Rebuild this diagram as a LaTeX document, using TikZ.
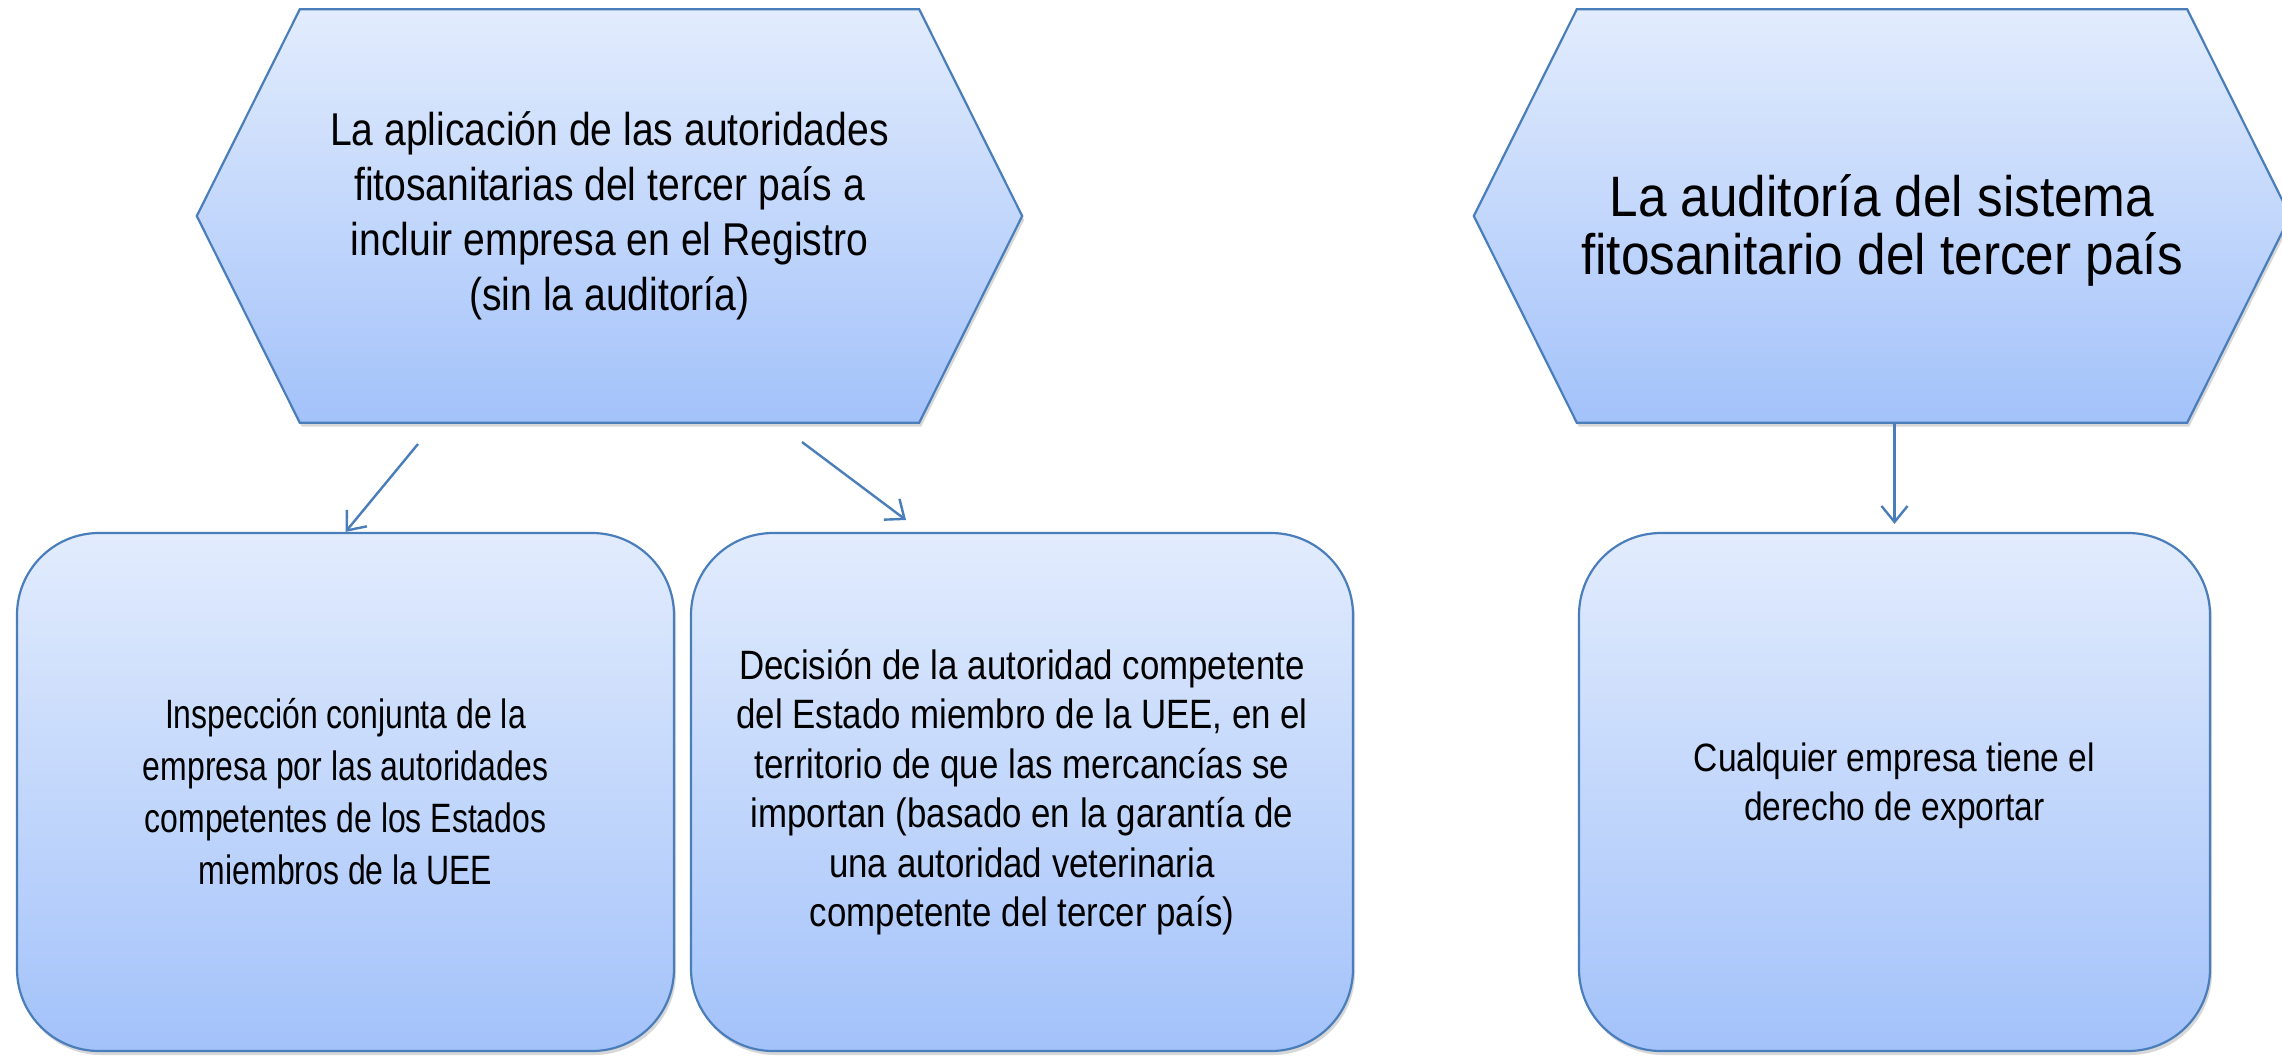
\documentclass[tikz,border=0pt]{standalone}
\usepackage{fontspec}
\newfontfamily\pptfont{Liberation Sans}[FakeStretch=0.85]
\newfontfamily\pptnarrow{Liberation Sans}[FakeStretch=0.78]
\newfontfamily\pptwide{Liberation Sans}[FakeStretch=0.9]
\usetikzlibrary{positioning,arrows.meta,shadows,backgrounds}
\definecolor{edgeblue}{RGB}{74,126,187}
\definecolor{filltop}{RGB}{226,236,253}
\definecolor{fillbot}{RGB}{163,194,250}

\begin{document}
\begin{tikzpicture}[
  x=1pt,y=-1pt,
  card/.style={draw=edgeblue,line width=2.2pt,rounded corners=82pt,
               top color=filltop,bottom color=fillbot,align=center,
               minimum height=518pt,inner sep=0pt,
               drop shadow={shadow xshift=2pt,shadow yshift=-4pt,opacity=.3}},
  hexlabel/.style={minimum height=413pt,inner sep=0pt},
  hexshape/.style={draw=edgeblue,line width=2.2pt,top color=filltop,bottom color=fillbot,
               drop shadow={shadow xshift=2pt,shadow yshift=-4pt,opacity=.3}},
  arr/.style={-{Straight Barb[length=16pt,width=26pt]},edgeblue,line width=2.4pt},
]
\useasboundingbox (0,0) rectangle (2282,1058);

% hexagons (empty nodes give the outline, texts sit on top)
\node[hexlabel,minimum width=619pt] (apl) at (609.5,216) {};
\node[hexlabel,minimum width=610pt] (aud) at (1882,216) {};
\node[align=center,font=\pptfont\fontsize{46}{55}\selectfont] (apltext) at (apl.center)
  {La aplicación de las autoridades\\fitosanitarias del tercer país a\\incluir empresa en el Registro\\(sin la auditoría)};
\node[align=center,font=\pptwide\fontsize{57}{58}\selectfont] (audtext) at ([yshift=-14pt]aud.center)
  {La auditoría del sistema\\fitosanitario del tercer país};

\begin{scope}[on background layer]
  \fill[white] (0,0) rectangle (2282,1058);
  \foreach \h in {apl,aud}
    \path[hexshape] (\h.north west) -- (\h.north east) -- ([xshift=103pt]\h.east)
      -- (\h.south east) -- (\h.south west) -- ([xshift=-103pt]\h.west) -- cycle;
\end{scope}

% result boxes
\node[card,minimum width=657pt,font=\pptnarrow\fontsize{41}{52}\selectfont] (insp) at (345.5,792)
  {Inspección conjunta de la\\empresa por las autoridades\\competentes de los Estados\\miembros de la UEE};
\node[card,minimum width=662pt,font=\pptfont\fontsize{41}{49.5}\selectfont] (deci) at (1022,792)
  {Decisión de la autoridad competente\\del Estado miembro de la UEE, en el\\territorio de que las mercancías se\\importan (basado en la garantía de\\una autoridad veterinaria\\competente del tercer país)};
\node[card,minimum width=631pt] (expo) at (1894.5,792) {};
\node[align=center,font=\pptfont\fontsize{39.5}{49.5}\selectfont] (expotext) at ([yshift=6pt]expo.center)
  {Cualquier empresa tiene el\\derecho de exportar};

\coordinate (t1) at (418,444);
\coordinate (t2) at (802,442);
\coordinate (h2) at (906,520);
\draw[arr] (t1) -- (insp.north);
\draw[arr] (t2) -- (h2);
\draw[arr,shorten >=8pt] (expo.north |- aud.south) -- (expo.north);
\end{tikzpicture}
\end{document}
